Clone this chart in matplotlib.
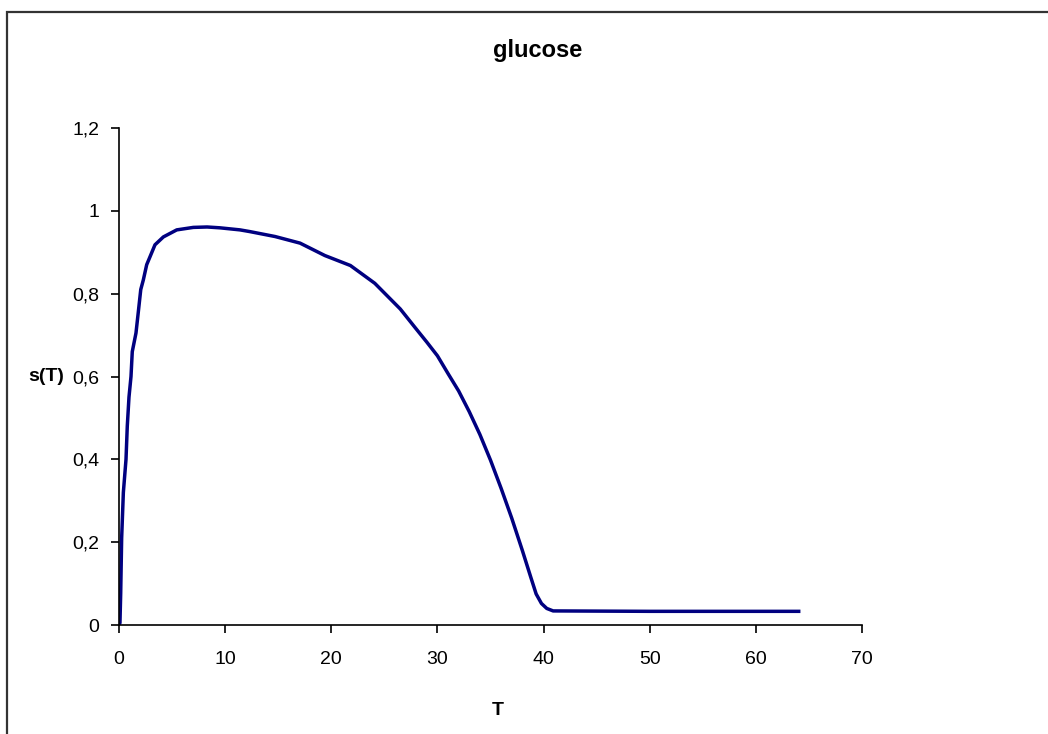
import matplotlib.pyplot as plt
from matplotlib.patches import Rectangle

# values
t = [0, 0.09, 0.16, 0.25, 0.41, 0.66, 0.78, 0.94, 1.13, 1.25, 1.6, 1.82, 2.05,
     2.29, 2.61, 2.92, 3.39, 4.18, 5.44, 7.0, 8.3, 9.5, 11.4, 12.3, 14.7, 17.06,
     19.4, 21.8, 24.1, 26.5, 27.9, 29.0, 30.0, 31.0, 32.0, 33.0, 34.0, 35.0,
     36.0, 37.0, 38.0, 38.8, 39.3, 39.8, 40.3, 40.9, 50.0, 64.2]
s = [0, 0.005, 0.077, 0.21, 0.32, 0.40, 0.48, 0.55, 0.60, 0.66, 0.705, 0.756,
     0.81, 0.833, 0.87, 0.889, 0.918, 0.937, 0.954, 0.960, 0.961, 0.959, 0.954,
     0.950, 0.938, 0.922, 0.892, 0.868, 0.825, 0.763, 0.718, 0.683, 0.650,
     0.607, 0.565, 0.515, 0.460, 0.398, 0.330, 0.258, 0.180, 0.115, 0.075,
     0.052, 0.040, 0.034, 0.033, 0.033]

x_ticks = [0, 10, 20, 30, 40, 50, 60, 70]
y_ticks = [0, 0.2, 0.4, 0.6, 0.8, 1.0, 1.2]
y_tick_labels = ["0", "0,2", "0,4", "0,6", "0,8", "1", "1,2"]

plt.rcParams['font.family'] = ['Liberation Sans', 'DejaVu Sans']

W, H = 1048, 734
fig = plt.figure(figsize=(W / 100, H / 100), dpi=100)
ax = fig.add_axes([119 / W, (H - 625) / H, 743 / W, 497 / H])

ax.plot(t, s, color="#000080", linewidth=2.5, solid_joinstyle="round",
        solid_capstyle="butt")

ax.set_xlim(0, 70)
ax.set_ylim(0, 1.2)
ax.set_xticks(x_ticks)
ax.set_xticklabels([str(v) for v in x_ticks])
ax.set_yticks(y_ticks)
ax.set_yticklabels(y_tick_labels)

for side in ("top", "right"):
    ax.spines[side].set_visible(False)
for side in ("left", "bottom"):
    ax.spines[side].set_linewidth(1.2)
ax.tick_params(axis="x", direction="out", length=6, width=1.2, pad=13, labelsize=14)
ax.tick_params(axis="y", direction="out", length=6, width=1.2, pad=8, labelsize=14)
ax.patch.set_alpha(0)

fig.text(538 / W, 1 - 50 / H, "glucose", fontsize=17, fontweight="bold",
         ha="center", va="center")
ax.set_xlabel("T", fontsize=14, fontweight="bold")
ax.xaxis.set_label_coords((498 - 119) / 743, (625 - 702) / 497)
ax.set_ylabel("s(T)", fontsize=14, fontweight="bold", rotation=0, ha="right", va="center")
ax.yaxis.set_label_coords((64 - 119) / 743, 0.5)

# outer frame (cut off on the right and bottom, as in the reference)
fig.patches.append(Rectangle((6.5 / W, -0.05), 1.1, (H - 11.5) / H + 0.05,
                             transform=fig.transFigure, fill=False,
                             edgecolor="#333333", linewidth=1.6))

fig.savefig("out.png", dpi=100)
